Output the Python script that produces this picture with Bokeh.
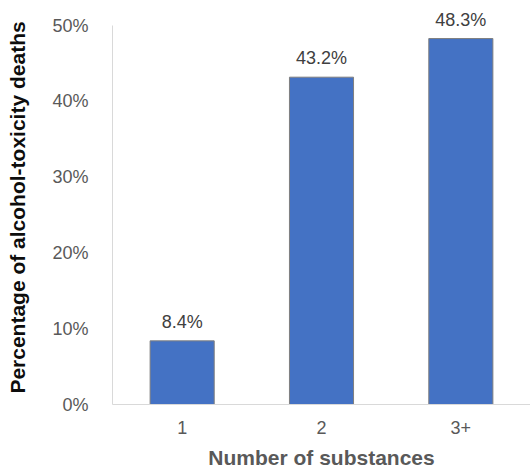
from bokeh.plotting import figure
from bokeh.models import FactorRange, Range1d, FixedTicker, PrintfTickFormatter, ColumnDataSource
from bokeh.core.properties import value
from bokeh.embed import file_html
from bokeh.resources import INLINE

categories = ["1", "2", "3+"]
percentages = [8.4, 43.2, 48.3]
y_ticks = [0, 10, 20, 30, 40, 50]

labels = [f"{v:.1f}%" for v in percentages]
src = ColumnDataSource(dict(x=categories, top=percentages, label=labels))

p = figure(width=530, height=471, output_backend="svg", toolbar_location=None,
           x_range=FactorRange(factors=categories, range_padding=0),
           y_range=Range1d(0, 52),
           min_border_left=112, min_border_right=0, min_border_top=10, min_border_bottom=67)
p.outline_line_color = None
p.grid.visible = False

p.vbar(x="x", top="top", width=0.46, source=src, fill_color="#4472C4",
       line_color="#7f7f7f", line_width=1)
p.text(x="x", y="top", text="label", source=src, text_align="center",
       text_baseline="bottom", y_offset=-9, text_color="#404040",
       text_font=value("Liberation Sans"), text_font_size="18px")

font = "Liberation Sans"
for ax in (p.xaxis[0], p.yaxis[0]):
    ax.axis_line_color = "#d9d9d9"
    ax.axis_line_width = 1
    ax.major_tick_line_color = None
    ax.minor_tick_line_color = None
    ax.major_label_text_font = font
    ax.major_label_text_font_size = "18px"
    ax.major_label_text_color = "#595959"
    ax.axis_label_text_font = font
    ax.axis_label_text_font_size = "21px"
    ax.axis_label_text_font_style = "bold"

p.yaxis.bounds = (0, 50)
p.yaxis.ticker = FixedTicker(ticks=y_ticks)
p.yaxis.formatter = PrintfTickFormatter(format="%d%%")
p.yaxis.major_label_standoff = 18
p.yaxis.axis_label = "Percentage of alcohol-toxicity deaths"
p.yaxis.axis_label_standoff = 20
p.yaxis.axis_label_text_color = "#0d0d0d"
p.xaxis.major_label_standoff = 10
p.xaxis.axis_label = "Number of substances"
p.xaxis.axis_label_standoff = 9
p.xaxis.axis_label_text_color = "#595959"

open("out.html", "w").write(file_html(p, INLINE))
